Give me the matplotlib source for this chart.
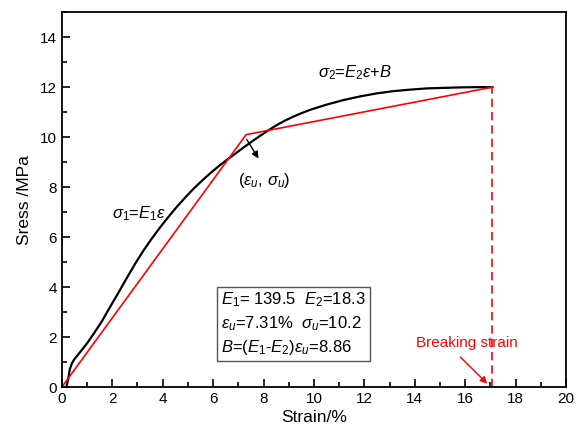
import matplotlib.pyplot as plt
from matplotlib.ticker import MultipleLocator

plt.rcParams['font.family'] = ['Liberation Sans', 'DejaVu Sans']
plt.rcParams['mathtext.fontset'] = 'custom'
plt.rcParams['mathtext.rm'] = 'Liberation Sans'
plt.rcParams['mathtext.it'] = 'Liberation Sans:italic'

# measured stress-strain curve
strain = [0.18, 0.25, 0.32, 0.4, 0.5, 0.71, 1.0, 1.24, 1.57, 1.9, 2.23, 2.57, 2.9,
          3.23, 3.56, 3.89, 4.22, 4.55, 4.88, 5.21, 5.54, 5.87, 6.2, 6.53, 6.87,
          7.2, 7.53, 7.86, 8.19, 8.52, 8.85, 9.18, 9.51, 9.84, 10.5, 11.16, 11.83,
          12.49, 13.15, 13.81, 14.47, 15.13, 15.8, 16.45, 17.08]
stress = [0.0, 0.3, 0.72, 0.95, 1.12, 1.38, 1.75, 2.1, 2.6, 3.18, 3.75, 4.35, 4.92,
          5.45, 5.93, 6.38, 6.8, 7.2, 7.57, 7.92, 8.24, 8.54, 8.82, 9.08, 9.33,
          9.58, 9.82, 10.05, 10.27, 10.48, 10.66, 10.82, 10.96, 11.09, 11.3, 11.48, 11.63,
          11.75, 11.84, 11.9, 11.95, 11.97, 11.99, 12.0, 12.0]

# bilinear fit
fit_strain = [0.0, 7.31, 17.08]
fit_stress = [0.0, 10.1, 12.0]
break_strain = 17.08

fig = plt.figure(figsize=(5.83, 4.34), dpi=100)
ax = fig.add_axes([0.106, 0.108, 0.865, 0.864])

ax.plot(strain, stress, color='black', lw=1.6)
ax.plot(fit_strain, fit_stress, color='red', lw=1.2)
ax.plot([break_strain, break_strain], [0, fit_stress[-1]], color='red', lw=1.2,
        dashes=(5, 3))

ax.set_xlim(0, 20)
ax.set_ylim(0, 15)
ax.xaxis.set_major_locator(MultipleLocator(2))
ax.xaxis.set_minor_locator(MultipleLocator(1))
ax.yaxis.set_major_locator(MultipleLocator(2))
ax.yaxis.set_minor_locator(MultipleLocator(1))
ax.tick_params(which='both', direction='in', width=1.2, labelsize=11)
ax.tick_params(which='major', length=6)
ax.tick_params(which='minor', length=3.5)
for s in ax.spines.values():
    s.set_linewidth(1.3)

ax.set_xlabel('Strain/%', fontsize=12.5, labelpad=3)
ax.set_ylabel('Sress /MPa', fontsize=12.5, labelpad=6)

ax.text(3.06, 6.95, r'$\sigma_1$=$E_1\varepsilon$', fontsize=12, ha='center', va='center')
ax.text(11.63, 12.56, r'$\sigma_2$=$E_2\varepsilon$+$B$', fontsize=12, ha='center', va='center')
ax.text(8.02, 8.28, r'($\varepsilon_u$, $\sigma_u$)', fontsize=12, ha='center', va='center')
ax.annotate('', xy=(7.86, 9.05), xytext=(7.28, 10.0),
            arrowprops=dict(arrowstyle='-|>', color='black', lw=1, mutation_scale=10))

box_text = (r'$E_1$= 139.5  $E_2$=18.3' + '\n'
            r'$\varepsilon_u$=7.31%  $\sigma_u$=10.2' + '\n'
            r'$B$=($E_1$-$E_2$)$\varepsilon_u$=8.86')
ax.text(6.32, 2.53, box_text, fontsize=12, ha='left', va='center', linespacing=1.35,
        bbox=dict(boxstyle='square,pad=0.25', fc='white', ec='#555555', lw=1))

ax.text(16.05, 1.76, 'Breaking strain', color='red', fontsize=11, ha='center', va='center')
ax.annotate('', xy=(16.95, 0.06), xytext=(15.73, 1.28),
            arrowprops=dict(arrowstyle='-|>', color='red', lw=1, mutation_scale=10))

fig.savefig('out.png', dpi=100)
